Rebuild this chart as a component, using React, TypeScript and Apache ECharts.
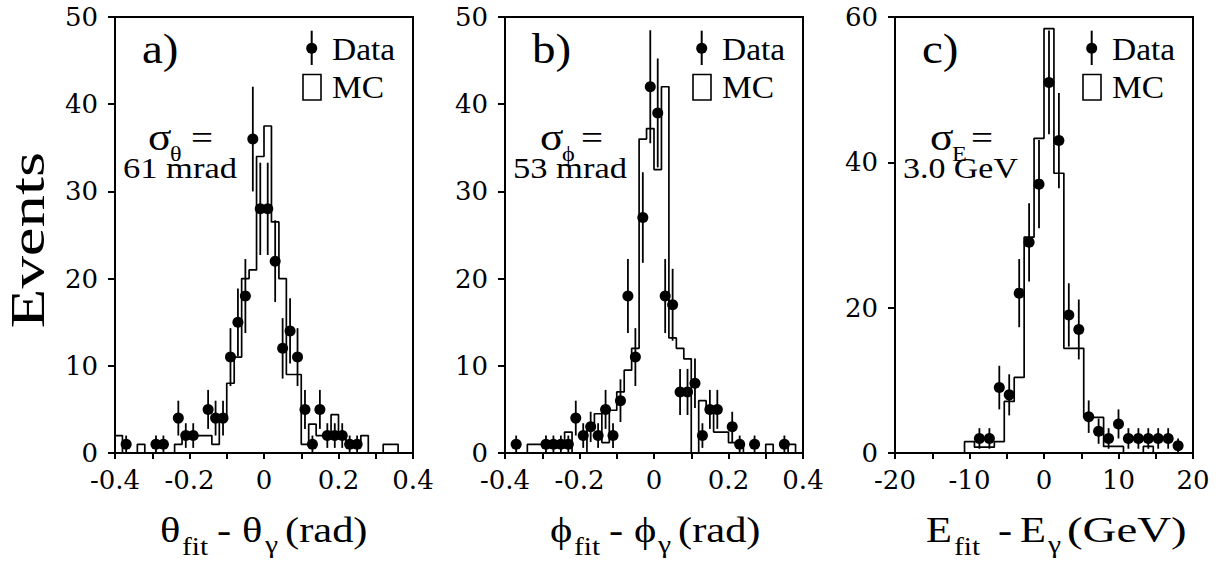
import React, { useEffect, useRef } from "react";
import * as echarts from "echarts";

const SERIF = "'Liberation Serif', 'Times New Roman', serif";
const TICK_FONT = "'DejaVu Serif', 'Liberation Serif', serif";

// ---- binning of the MC histograms ----
const angleBinStart = -0.4;
const angleBinWidth = 0.02;
const energyBinStart = -20;
const energyBinWidth = 4 / 3;

// ---- panel a: theta ----
const thetaDataX = [-0.37, -0.29, -0.27, -0.23, -0.21, -0.19, -0.15, -0.13, -0.11, -0.09, -0.07, -0.05, -0.03, -0.01, 0.01, 0.03, 0.05, 0.07, 0.09, 0.11, 0.13, 0.15, 0.17, 0.19, 0.21, 0.23, 0.25];
const thetaDataY = [1, 1, 1, 4, 2, 2, 5, 4, 4, 11, 15, 18, 36, 28, 28, 22, 12, 14, 11, 5, 1, 5, 2, 2, 2, 1, 1];
const thetaMC = [2, 0, 0, 1, 0, 0, 0, 0, 1, 2, 2, 2, 2, 1, 4, 8, 11, 20, 21, 34, 37.5, 26.5, 20, 9, 9, 1, 3.3, 2, 2, 4.4, 2, 1, 1, 2, 0, 0, 1, 1, 0, 0];

// ---- panel b: phi ----
const phiDataX = [-0.37, -0.29, -0.27, -0.25, -0.23, -0.21, -0.19, -0.17, -0.15, -0.13, -0.11, -0.09, -0.07, -0.05, -0.03, -0.01, 0.01, 0.03, 0.05, 0.07, 0.09, 0.11, 0.13, 0.15, 0.17, 0.21, 0.23, 0.27, 0.35];
const phiDataY = [1, 1, 1, 1, 1, 4, 2, 3, 2, 5, 2, 6, 18, 11, 27, 42, 39, 18, 17, 7, 7, 8, 2, 5, 5, 3, 1, 1, 1];
const phiMC = [0, 0, 0, 1, 1, 1, 1, 1, 2.4, 0, 0, 3, 4.5, 1.2, 4.9, 7, 9.5, 12, 36, 37.2, 32.5, 42, 13.2, 12, 10.8, 0, 6, 5, 2.4, 2.4, 1.2, 1.2, 0, 0, 0, 1, 0, 0, 1, 0];

// ---- panel c: energy ----
const energyDataX = [-8.67, -7.33, -6, -4.67, -3.33, -2, -0.67, 0.67, 2, 3.33, 4.67, 6, 7.33, 8.67, 10, 11.33, 12.67, 14, 15.33, 16.67, 18];
const energyDataY = [2, 2, 9, 8, 22, 29, 37, 51, 43, 19, 17, 5, 3, 2, 4, 2, 2, 2, 2, 2, 1];
const energyMC = [0, 0, 0, 0, 0, 0, 0, 1.56, 0.8, 0.8, 1.56, 7.1, 10.4, 29.7, 43.3, 58.4, 38.5, 14.4, 14.4, 4.9, 4.9, 0.9, 0.9, 0, 0, 0.9, 0, 0, 0, 0];

const panelLabels = ["a)", "b)", "c)"];
const legendLabels = ["Data", "MC"];
const sigmaSubs = ["θ", "ϕ", "E"];
const sigmaValues = ["61 mrad", "53 mrad", "3.0 GeV"];
const yTitle = "Events";

type Panel = {
  left: number;
  xMin: number;
  xMax: number;
  xInterval: number;
  labelEvery: number;
  yMax: number;
  yInterval: number;
  dataX: number[];
  dataY: number[];
  mc: number[];
  binStart: number;
  binWidth: number;
};

const panels: Panel[] = [
  { left: 115, xMin: -0.4, xMax: 0.4, xInterval: 0.1, labelEvery: 0.2, yMax: 50, yInterval: 10, dataX: thetaDataX, dataY: thetaDataY, mc: thetaMC, binStart: angleBinStart, binWidth: angleBinWidth },
  { left: 505, xMin: -0.4, xMax: 0.4, xInterval: 0.1, labelEvery: 0.2, yMax: 50, yInterval: 10, dataX: phiDataX, dataY: phiDataY, mc: phiMC, binStart: angleBinStart, binWidth: angleBinWidth },
  { left: 895, xMin: -20, xMax: 20, xInterval: 5, labelEvery: 10, yMax: 60, yInterval: 20, dataX: energyDataX, dataY: energyDataY, mc: energyMC, binStart: energyBinStart, binWidth: energyBinWidth },
];

const GRID_TOP = 17;
const GRID_H = 436;
const GRID_W = 298;

function txt(x: number, baseline: number, text: string, size: number, sx = 1, extra: any = {}) {
  return {
    type: "text",
    x,
    y: baseline - 0.3375 * size,
    scaleX: sx,
    silent: true,
    style: {
      text,
      fontFamily: SERIF,
      fontSize: size,
      fill: "#000",
      align: "left",
      textAlign: "left",
      verticalAlign: "middle",
      textVerticalAlign: "middle",
    },
    ...extra,
  };
}

function histPoints(mc: number[], start: number, width: number) {
  const pts: number[][] = [[start, 0]];
  mc.forEach((v, i) => pts.push([start + i * width, v]));
  pts.push([start + mc.length * width, 0]);
  return pts;
}

function buildOption() {
  const grid: any[] = [];
  const xAxis: any[] = [];
  const yAxis: any[] = [];
  const series: any[] = [];
  const graphic: any[] = [];

  panels.forEach((p, i) => {
    grid.push({
      left: p.left,
      top: GRID_TOP,
      width: GRID_W,
      height: GRID_H,
      show: true,
      borderColor: "#000",
      borderWidth: 2,
      backgroundColor: "transparent",
      containLabel: false,
    });
    xAxis.push({
      type: "value",
      gridIndex: i,
      min: p.xMin,
      max: p.xMax,
      interval: p.xInterval,
      axisLine: { show: true, onZero: false, lineStyle: { color: "#000", width: 2 } },
      axisTick: { show: true, inside: false, length: 6, lineStyle: { color: "#000", width: 2 } },
      splitLine: { show: false },
      axisLabel: {
        show: true,
        margin: 14,
        color: "#000",
        fontFamily: TICK_FONT,
        fontSize: 26,
        showMinLabel: true,
        showMaxLabel: true,
        formatter: (v: number) => {
          const k = Math.round((v / p.labelEvery) * 1000) / 1000;
          if (Math.abs(k - Math.round(k)) > 1e-6) return "";
          if (Math.abs(v) < 1e-9) return "0";
          return p.labelEvery < 1 ? v.toFixed(1) : String(Math.round(v));
        },
      },
    });
    yAxis.push({
      type: "value",
      gridIndex: i,
      min: 0,
      max: p.yMax,
      interval: p.yInterval,
      axisLine: { show: true, onZero: false, lineStyle: { color: "#000", width: 2 } },
      axisTick: { show: true, inside: false, length: 7, lineStyle: { color: "#000", width: 2 } },
      splitLine: { show: false },
      axisLabel: { show: true, margin: 17, color: "#000", fontFamily: TICK_FONT, fontSize: 26 },
    });

    series.push({
      type: "line",
      xAxisIndex: i,
      yAxisIndex: i,
      step: "end",
      symbol: "none",
      data: histPoints(p.mc, p.binStart, p.binWidth),
      lineStyle: { color: "#000", width: 1.7 },
      z: 2,
      silent: true,
      clip: true,
    });
    series.push({
      type: "custom",
      xAxisIndex: i,
      yAxisIndex: i,
      data: p.dataX.map((x, k) => [x, p.dataY[k]]),
      renderItem: (_params: any, api: any) => {
        const x = api.value(0);
        const y = api.value(1);
        const e = Math.sqrt(y);
        const p1 = api.coord([x, y - e]);
        const p2 = api.coord([x, y + e]);
        return {
          type: "line",
          shape: { x1: p1[0], y1: p1[1], x2: p2[0], y2: p2[1] },
          style: { stroke: "#000", lineWidth: 1.8 },
        };
      },
      z: 3,
      silent: true,
    });
    series.push({
      type: "scatter",
      xAxisIndex: i,
      yAxisIndex: i,
      data: p.dataX.map((x, k) => [x, p.dataY[k]]),
      symbol: "circle",
      symbolSize: 11,
      itemStyle: { color: "#000", opacity: 1 },
      z: 4,
      silent: true,
    });

    const L = p.left;
    // panel label
    graphic.push(txt(L + 27, 63, panelLabels[i], 42, 1.12));
    // legend
    graphic.push({ type: "line", silent: true, shape: { x1: L + 196.7, y1: 30.7, x2: L + 196.7, y2: 65 }, style: { stroke: "#000", lineWidth: 2 } });
    graphic.push({ type: "circle", silent: true, shape: { cx: L + 196.7, cy: 48.3, r: 5.5 }, style: { fill: "#000" } });
    graphic.push(txt(L + 217, 60, legendLabels[0], 31, 1.08));
    graphic.push({ type: "rect", silent: true, shape: { x: L + 188, y: 74.5, width: 18, height: 25.5 }, style: { fill: "none", stroke: "#000", lineWidth: 1.6 } });
    graphic.push(txt(L + 217, 98, legendLabels[1], 31, 1.08));
    // sigma annotation
    const sx = i === 0 ? L + 33 : L + 35;
    graphic.push(txt(sx, 150, "σ", 38, 1.15));
    graphic.push(txt(sx + 22, 161, sigmaSubs[i], 22, 1.1));
    graphic.push(txt(L + 76, 149, "=", 34, 1.15));
    graphic.push(txt(L + 8, 178, sigmaValues[i], 29, i === 2 ? 1.17 : 1.19));
  });

  // x-axis titles
  const a = panels[0].left;
  const b = panels[1].left;
  const c = panels[2].left;
  const main = 36;
  const sub = 25;
  const st = 1.18;
  // a
  graphic.push(txt(a + 45, 542, "θ", main, st));
  graphic.push(txt(a + 67, 555, "fit", sub, st));
  graphic.push(txt(a + 102, 542, "-", main, st));
  graphic.push(txt(a + 127, 542, "θ", main, st));
  graphic.push(txt(a + 150, 553, "γ", sub, st));
  graphic.push(txt(a + 170, 542, "(rad)", main, st));
  // b
  graphic.push(txt(b + 45, 542, "ϕ", main, st));
  graphic.push(txt(b + 69, 555, "fit", sub, st));
  graphic.push(txt(b + 104, 542, "-", main, st));
  graphic.push(txt(b + 129, 542, "ϕ", main, st));
  graphic.push(txt(b + 153, 553, "γ", sub, st));
  graphic.push(txt(b + 173, 542, "(rad)", main, st));
  // c
  graphic.push(txt(c + 31, 542, "E", main, st));
  graphic.push(txt(c + 59, 555, "fit", sub, st));
  graphic.push(txt(c + 103, 542, "-", main, st));
  graphic.push(txt(c + 125, 542, "E", main, st));
  graphic.push(txt(c + 153, 553, "γ", sub, st));
  graphic.push(txt(c + 172, 542, "(GeV)", main, 1.3));

  // y title
  graphic.push({
    type: "text",
    x: 28,
    y: 240,
    rotation: Math.PI / 2,
    scaleX: 1.35,
    scaleY: 1,
    silent: true,
    style: {
      text: yTitle,
      fontFamily: SERIF,
      fontSize: 48,
      fill: "#000",
      align: "center",
      textAlign: "center",
      verticalAlign: "middle",
      textVerticalAlign: "middle",
    },
  });

  return {
    animation: false,
    backgroundColor: "#fff",
    grid,
    xAxis,
    yAxis,
    series,
    graphic: { elements: graphic },
  };
}

export default function App() {
  const ref = useRef<HTMLDivElement>(null);
  useEffect(() => {
    if (!ref.current) return;
    const chart = echarts.init(ref.current, undefined, { renderer: "svg" });
    chart.setOption(buildOption() as any);
    return () => chart.dispose();
  }, []);
  return <div ref={ref} style={{ position: "fixed", left: 0, top: 0, width: 1220, height: 566 }} />;
}
